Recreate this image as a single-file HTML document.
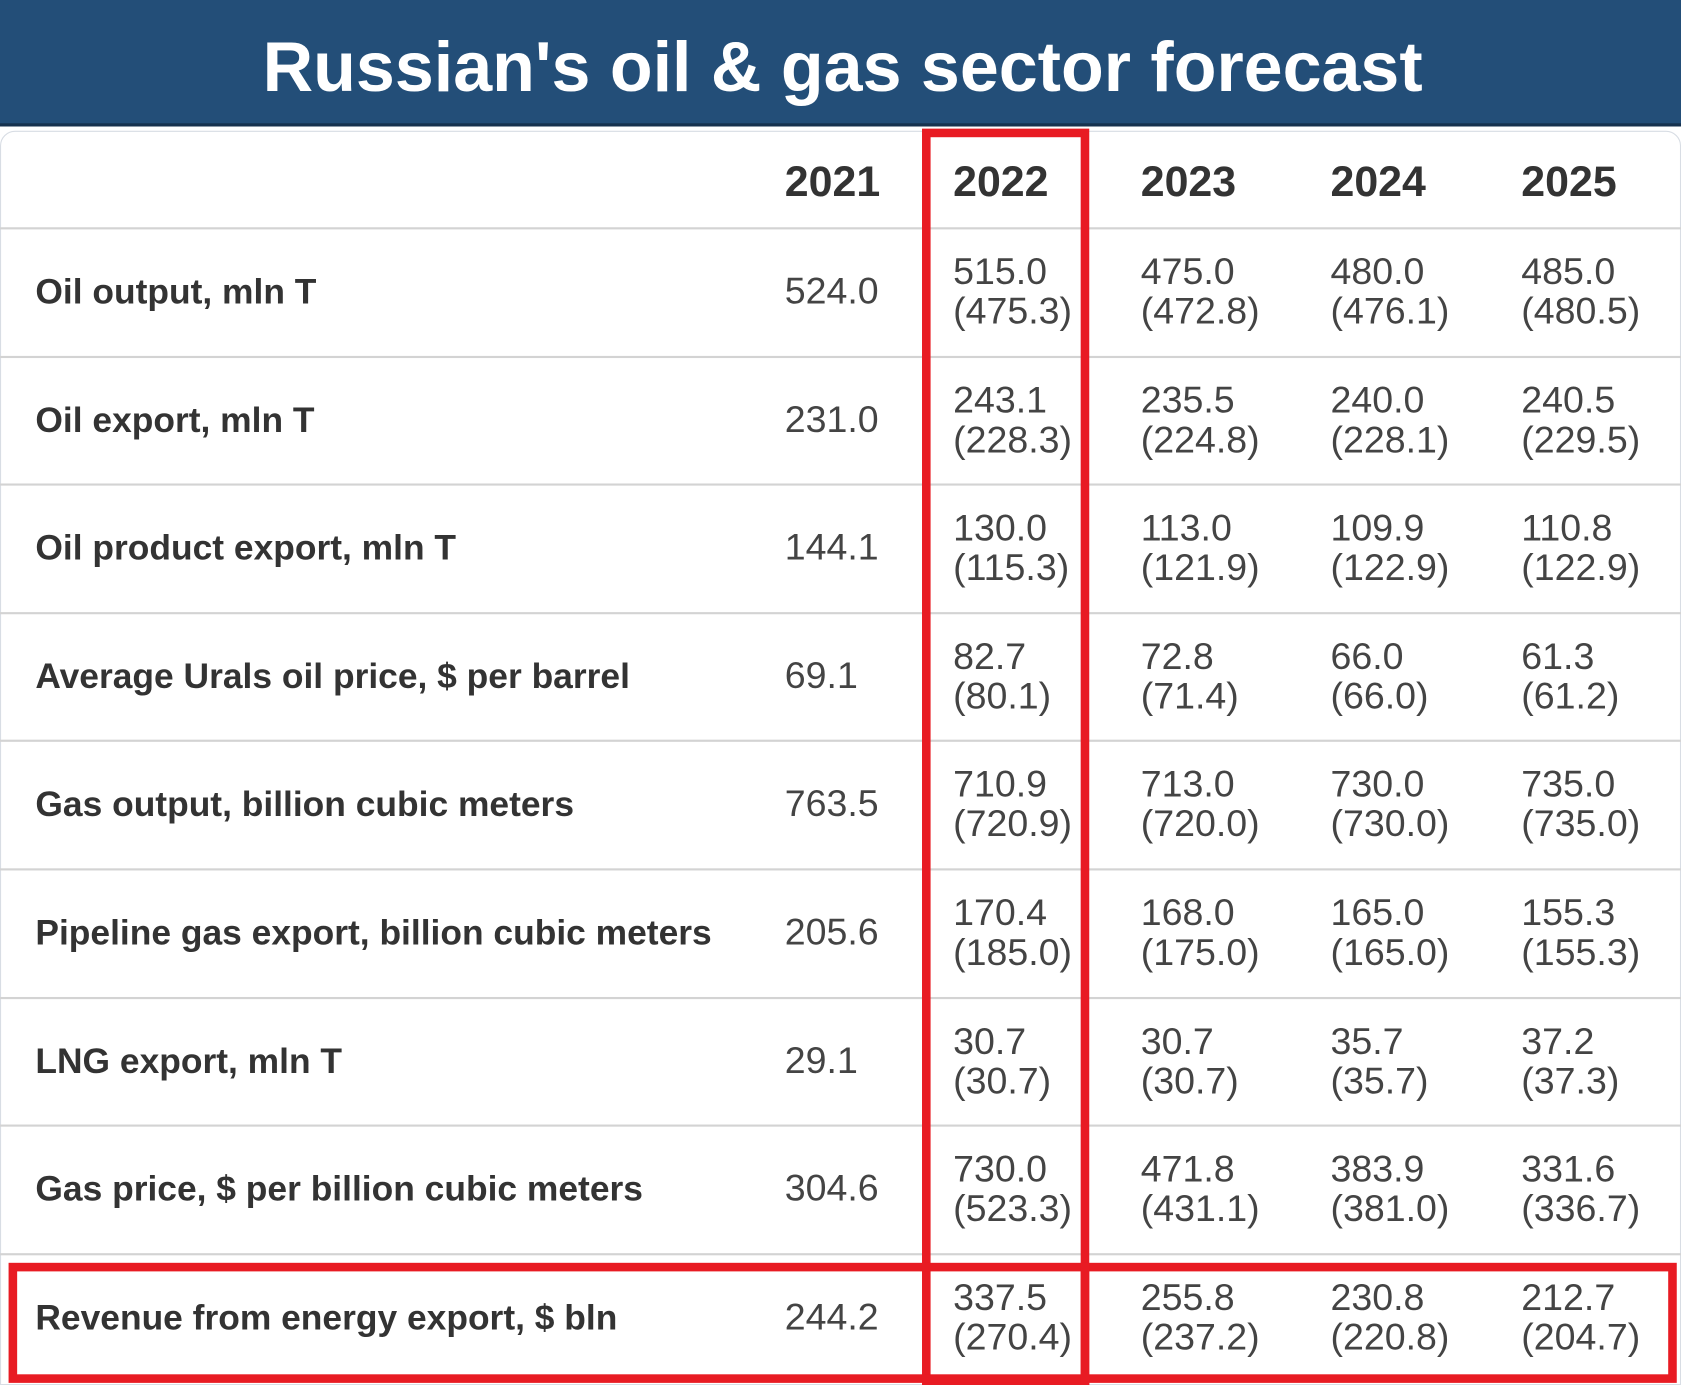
<!DOCTYPE html>
<html><head><meta charset="utf-8"><style>
html,body{margin:0;padding:0;background:#fff;width:1681px;height:1385px;overflow:hidden}
#wrap{position:absolute;left:0;top:0;width:1568px;height:1292px;transform:scale(1.0721,1.072);transform-origin:0 0;font-family:"Liberation Sans Narrow","Liberation Sans",sans-serif;color:#333}
#hdr{position:absolute;left:0;top:0;width:1568px;height:115px;background:#234e78;border-bottom:3px solid #16324f}
#tbl{position:absolute;left:0;top:122px;width:1566px;height:1168px;border:1px solid #d8dde4;border-radius:14px 14px 0 0;background:#fff}
.line{position:absolute;left:0;width:1568px;height:2px;background:#d3d3d3}
.yr{position:absolute;top:148px;font-weight:bold;font-size:40px;color:#333}
.lab{position:absolute;left:33px;font-weight:bold;font-size:33px;color:#333}
.v{position:absolute;font-size:35px;line-height:37px;color:#444}
.red{position:absolute;border:8px solid #e81b23;box-sizing:border-box}
</style></head><body>
<div id="wrap">
<div id="hdr">
<svg width="1568" height="115"><text x="786" y="85" text-anchor="middle" textLength="1082" lengthAdjust="spacingAndGlyphs" font-family="Liberation Sans, sans-serif" font-weight="bold" font-size="66" fill="#fff">Russian's oil &amp; gas sector forecast</text></svg>
</div>
<div id="tbl"></div>
<div id="cells"></div>
<div class="red" style="left:860px;top:120px;width:156px;height:1172px"></div>
<div class="red" style="left:8px;top:1178px;width:1556px;height:112px"></div>
<div class="red" style="left:1008px;top:1178px;width:8px;height:114px;border-width:0 0 0 8px"></div>
</div>
<script>
const years=["2021","2022","2023","2024","2025"];
const labels=["Oil output, mln T","Oil export, mln T","Oil product export, mln T","Average Urals oil price, $ per barrel","Gas output, billion cubic meters","Pipeline gas export, billion cubic meters","LNG export, mln T","Gas price, $ per billion cubic meters","Revenue from energy export, $ bln"];
const v2021=["524.0","231.0","144.1","69.1","763.5","205.6","29.1","304.6","244.2"];
const fNew=[["515.0","475.0","480.0","485.0"],["243.1","235.5","240.0","240.5"],["130.0","113.0","109.9","110.8"],["82.7","72.8","66.0","61.3"],["710.9","713.0","730.0","735.0"],["170.4","168.0","165.0","155.3"],["30.7","30.7","35.7","37.2"],["730.0","471.8","383.9","331.6"],["337.5","255.8","230.8","212.7"]];
const fOld=[["475.3","472.8","476.1","480.5"],["228.3","224.8","228.1","229.5"],["115.3","121.9","122.9","122.9"],["80.1","71.4","66.0","61.2"],["720.9","720.0","730.0","735.0"],["185.0","175.0","165.0","155.3"],["30.7","30.7","35.7","37.3"],["523.3","431.1","381.0","336.7"],["270.4","237.2","220.8","204.7"]];
const colX=[732,889,1064,1241,1419];
const c=document.getElementById('cells');
years.forEach((y,i)=>{const d=document.createElement('div');d.className='yr';d.style.left=colX[i]+'px';d.textContent=y;


c.appendChild(d);});
const rowTop=213,rowH=119.6;
labels.forEach((l,r)=>{
const top=rowTop+r*rowH;
if(r<labels.length-1||true){const ln=document.createElement('div');ln.className='line';ln.style.top=(top-1)+'px';


c.appendChild(ln);}
const lb=document.createElement('div');lb.className='lab';lb.style.top=(top+40)+'px';lb.textContent=l;


c.appendChild(lb);
const a=document.createElement('div');a.className='v';a.style.left=colX[0]+'px';a.style.top=(top+40)+'px';a.textContent=v2021[r];


c.appendChild(a);
for(let k=0;k<4;k++){const e=document.createElement('div');e.className='v';e.style.left=colX[k+1]+'px';e.style.top=(top+22)+'px';e.innerHTML=fNew[r][k]+'<br>('+fOld[r][k]+')';


c.appendChild(e);}
});
</script>
</body></html>
